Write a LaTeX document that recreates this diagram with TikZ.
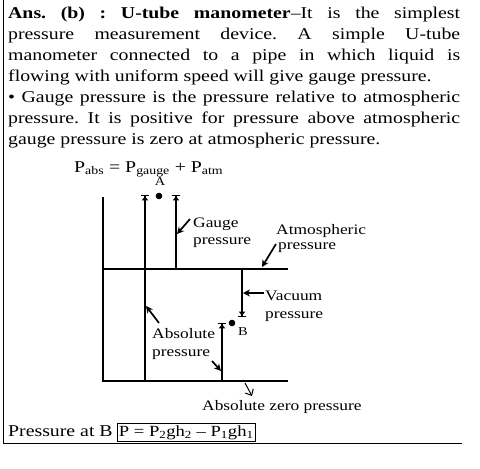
\documentclass[tikz,border=0pt]{standalone}
\usepackage{fontspec}
\setmainfont{Liberation Serif}[FakeStretch=1.2]
\usetikzlibrary{arrows.meta}
\frenchspacing
\begin{document}
\begin{tikzpicture}[x=1pt,y=-1pt,
  txt/.style={anchor=base west,inner sep=0pt,font=\fontsize{16.5}{18}\selectfont},
  lbl/.style={anchor=base west,inner sep=0pt,font=\fontsize{14.5}{17}\selectfont},
  small/.style={inner sep=0pt,font=\fontsize{12}{13}\selectfont},
  thick line/.style={line width=1.6pt},
  bartip/.style={line width=1.6pt,-{Triangle[length=4pt,width=6pt]Bar[width=7.5pt,line width=1.3pt]}},
  pointer/.style={line width=1.7pt,-{Stealth[length=7pt,width=7pt]}},
  openptr/.style={line width=1pt,-{Straight Barb[length=5pt,width=9pt]}}]
\useasboundingbox (0,0) rectangle (480,469);
% frame
\coordinate (ftop) at (3,0);
\coordinate (fcorner) at (3,443);
\coordinate (fright) at (462,443);
\draw[line width=1pt] (ftop) -- (fcorner) -- (fright);
% text
\node[txt] (l1) at (8,18) {\makebox[452pt][s]{\textbf{Ans. (b) : U-tube manometer}–It is the simplest}};
\node[txt] (l2) at (8,39) {\makebox[452pt][s]{pressure measurement device. A simple U-tube}};
\node[txt] (l3) at (8,60) {\makebox[452pt][s]{manometer connected to a pipe in which liquid is}};
\node[txt] (l4) at (8,81) {flowing with uniform speed will give gauge pressure.};
\node[txt] (l5) at (8,102) {\makebox[452pt][s]{• Gauge pressure is the pressure relative to atmospheric}};
\node[txt] (l6) at (8,123) {\makebox[452pt][s]{pressure. It is positive for pressure above atmospheric}};
\node[txt] (l7) at (8,144) {gauge pressure is zero at atmospheric pressure.};
\node[txt] (formula) at (74,172) {P\textsubscript{abs} = P\textsubscript{gauge} + P\textsubscript{atm}};
% diagram coordinates
\coordinate (Ltop) at (103,197);
\coordinate (Lbot) at (103,381);
\coordinate (atmL) at (103,269);
\coordinate (atmR) at (288,269);
\coordinate (botR) at (288,381);
\coordinate (v1b) at (145,381);
\coordinate (v1t) at (145,195);
\coordinate (v2b) at (176,269);
\coordinate (v2t) at (176,195);
\coordinate (v3t) at (242,269);
\coordinate (v3b) at (242,317);
\coordinate (v4b) at (222,381);
\coordinate (v4t) at (222,323);
\draw[thick line] (Ltop) -- (Lbot) -- (botR);
\draw[thick line] (atmL) -- (atmR);
\draw[bartip] (v1b) -- (v1t);
\draw[bartip] (v2b) -- (v2t);
\draw[bartip] (v3t) -- (v3b);
\draw[bartip] (v4b) -- (v4t);
% points
\fill (159,196) circle (3.3pt) coordinate (dotA);
\node[small,anchor=base] (A) at (160,185) {A};
\fill (232,323) circle (3.3pt) coordinate (dotB);
\node[small,anchor=base west] (B) at (238,335) {B};
% labels
\node[lbl] (gauge1) at (193,227) {Gauge};
\node[lbl] (gauge2) at (193,244) {pressure};
\coordinate (gtail) at (190,219);
\coordinate (gpt) at (177,234);
\draw[pointer] (gtail) -- (gpt);
\node[lbl] (atm1) at (276,234) {Atmospheric};
\node[lbl] (atm2) at (278,249) {pressure};
\coordinate (atail) at (276,244);
\coordinate (apt) at (262,267);
\draw[pointer] (atail) -- (apt);
\node[lbl] (vac1) at (265,300) {Vacuum};
\node[lbl] (vac2) at (265,318) {pressure};
\coordinate (vtail) at (264,293);
\coordinate (vpt) at (243,293);
\draw[pointer] (vtail) -- (vpt);
\node[lbl] (abs1) at (152,338) {Absolute};
\node[lbl] (abs2) at (152,356) {pressure};
\coordinate (b1tail) at (159,323);
\coordinate (b1pt) at (146,306);
\draw[pointer] (b1tail) -- (b1pt);
\coordinate (b2tail) at (212,361);
\coordinate (b2pt) at (221,371);
\draw[pointer] (b2tail) -- (b2pt);
\coordinate (ztail) at (245,383);
\coordinate (zpt) at (252,396);
\draw[openptr] (ztail) -- (zpt);
\node[lbl] (zero) at (202,410) {Absolute zero pressure};
% bottom line
\node[txt] (pab) at (8,436) {Pressure at B};
\node[txt,draw,line width=0.8pt,inner xsep=1.5pt,inner ysep=2pt,anchor=base west,font=\fontsize{15.5}{17}\selectfont] (box) at (117,436) {P = P\textsubscript{2}gh\textsubscript{2} – P\textsubscript{1}gh\textsubscript{1}};
\end{tikzpicture}
\end{document}
